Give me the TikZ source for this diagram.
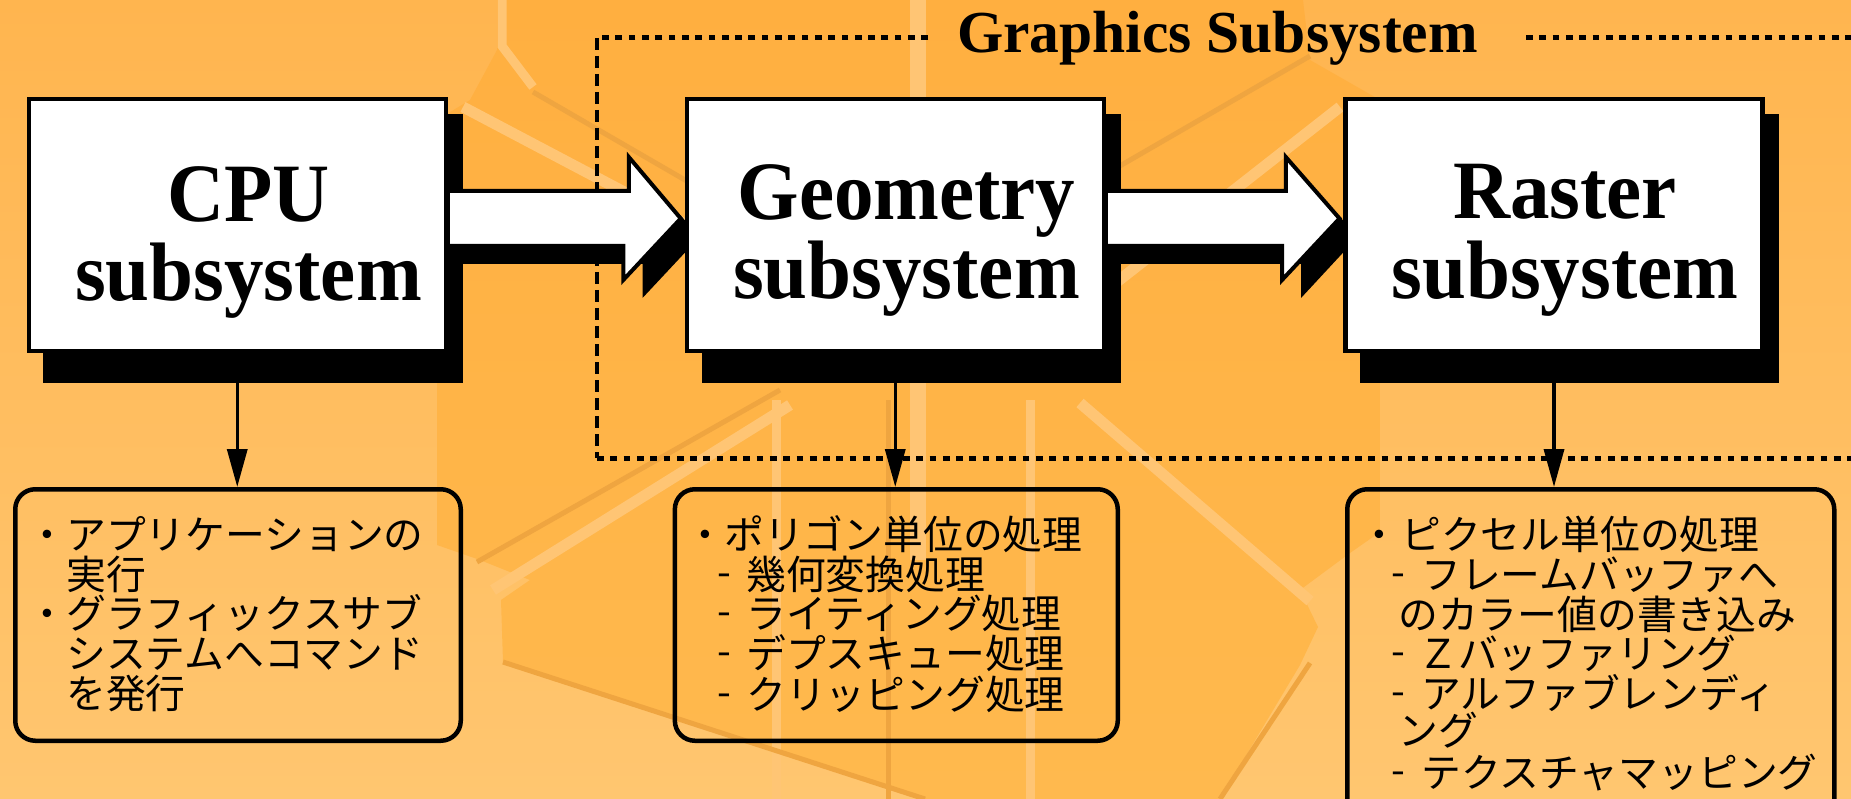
\documentclass[tikz,border=0pt]{standalone}
\usepackage{fontspec}
\setmainfont{Liberation Serif}
\newfontfamily\jp{Noto Sans CJK JP}
\usetikzlibrary{arrows.meta,calc}
\definecolor{bgtop}{HTML}{FFB54F}
\definecolor{bgbot}{HTML}{FFC670}
\definecolor{darktop}{HTML}{FFAF40}
\definecolor{darkbot}{HTML}{FFB94E}
\definecolor{lightc}{HTML}{FFC574}
\definecolor{edgec}{HTML}{EFA540}
\begin{document}
\begin{tikzpicture}[x=1pt,y=-1pt,
  mainbox/.style={draw=black, line width=4.5pt, fill=white, minimum width=417pt, minimum height=251.5pt, inner sep=0pt},
  boxtext/.style={font=\fontsize{79}{80}\selectfont\bfseries, inner sep=0pt, anchor=base, yscale=1.05},
  note/.style={draw=black, line width=4.5pt, rounded corners=20pt, minimum height=251.5pt, inner sep=0pt},
  jptext/.style={font=\jp\fontsize{39.8}{40}\selectfont, inner sep=0pt, anchor=base west},
  jpmark/.style={font=\jp\fontsize{39.8}{40}\selectfont, inner sep=0pt, anchor=base},
  blockarrow/.style={draw=black, line width=4pt, fill=white, line join=miter},
  dotframe/.style={line width=5pt, dash pattern=on 6.7pt off 6.6pt},
  dotframev/.style={line width=4.5pt, dash pattern=on 12pt off 6pt},
  thinarrow/.style={line width=3.5pt, -{Triangle[length=38pt,width=20pt]}},
  lightstripe/.style={draw=lightc, line width=11pt},
  edgeline/.style={draw=edgec, line width=5pt},
]
\useasboundingbox (0,0) rectangle (1851,799);
% background
\shade[top color=bgtop, bottom color=bgbot] (0,0) rectangle (1851,799);
\shade[top color=darktop, bottom color=darkbot]
  (497,0) -- (1303,0) -- (1310,60) -- (1380,100) -- (1380,532) -- (1350,553)
  -- (1300,590) -- (1318,627) -- (1300,665) -- (1220,799) -- (925,799)
  -- (503,662) -- (501,600) -- (530,580) -- (480,560) -- (437,545)
  -- (437,120) -- (470,100) -- (497,50) -- cycle;
\draw[lightstripe, line width=9pt] (502,0) -- (502,46) -- (533,87);
\draw[lightstripe] (463,107) -- (700,232);
\draw[lightstripe] (493,590) -- (790,405);
\draw[lightstripe] (1080,403) -- (1310,601);
\draw[lightstripe] (1340,107) -- (1113,285);
\draw[lightstripe, line width=16pt] (918,0) -- (918,560);
\draw[lightstripe, line width=9pt] (1030,400) -- (1030,799);
\draw[lightstripe, line width=9pt] (776,400) -- (776,799);
\draw[edgeline] (533,92) -- (780,235);
\draw[edgeline] (477,562) -- (780,390);
\draw[edgeline] (1310,663) -- (1220,799);
\draw[edgeline] (1310,56) -- (1080,189);
\draw[edgeline] (503,662) -- (925,799);
\draw[edgeline] (888,400) -- (888,799);
% dotted frame
\draw[dotframe] (928,38) -- (597,38);
\draw[dotframev] (597,38) -- (597,458);
\draw[dotframe] (597,458) -- (1860,458);
\draw[dotframe] (1526,38) -- (1860,38);
\node[font=\fontsize{59.5}{60}\selectfont\bfseries, anchor=base west, inner sep=0pt] (title) at (957,53) {Graphics Subsystem};
% note boxes
\node[note, minimum width=445.5pt] (cpunote) at (238,615) {};
\node[note, minimum width=442.9pt] (geonote) at (896.3,615) {};
\node[note, minimum width=487pt, minimum height=338.5pt] (rasnote) at (1590.75,658.5) {};
% main box anchors (for thin arrows)
\coordinate (cpuc) at (237.25,225);
\coordinate (geoc) at (895.25,225);
\coordinate (rasc) at (1554,225);
\draw[thinarrow] (cpuc) -- (cpuc |- cpunote.north);
\draw[thinarrow] (geoc) -- (geoc |- geonote.north);
\draw[thinarrow] (rasc) -- (rasc |- rasnote.north);
% shadows
\fill[black] (43,114) rectangle (463,383);
\fill[black] (702,114) rectangle (1121,383);
\fill[black] (1360,114) rectangle (1779,383);
\fill[black] (448,209) -- (642.5,209) -- (642.5,175) -- (700,236.5) -- (642.5,298) -- (642.5,264) -- (448,264) -- cycle;
\fill[black] (1105,209) -- (1301,209) -- (1301,175) -- (1358,236.5) -- (1301,298) -- (1301,264) -- (1105,264) -- cycle;
% main boxes
\node[mainbox] (cpu) at (cpuc) {};
\node[mainbox] (geo) at (geoc) {};
\node[mainbox] (ras) at (rasc) {};
\node[boxtext] (cpu1) at (248.5,222) {CPU};
\node[boxtext] (cpu2) at (248.5,301) {subsystem};
\node[boxtext] (geo1) at (906.5,220) {Geometry};
\node[boxtext] (geo2) at (906.5,299) {subsystem};
\node[boxtext] (ras1) at (1565,219) {Raster};
\node[boxtext] (ras2) at (1565,298) {subsystem};
% block arrows
\draw[blockarrow] ($(cpu.east)+(2,-34)$) -- ++(178.75,0) -- ++(0,-34) -- ($(geo.west)+(-3.75,-6.5)$)
  -- ++(-57.5,61.5) -- ++(0,-34) -- ($(cpu.east)+(2,21)$);
\draw[blockarrow] ($(geo.east)+(2,-34)$) -- ++(177.75,0) -- ++(0,-34) -- ($(ras.west)+(-3.75,-6.5)$)
  -- ++(-57.5,61.5) -- ++(0,-34) -- ($(geo.east)+(2,21)$);
% CPU note text
\node[jpmark] (cb1) at (47,549) {・};
\node[jptext] (ct1) at (66,549) {アプリケーションの};
\node[jptext] (ct2) at (66,589) {実行};
\node[jpmark] (cb2) at (47,628) {・};
\node[jptext] (ct3) at (66,628) {グラフィックスサブ};
\node[jptext] (ct4) at (66,668) {システムへコマンド};
\node[jptext] (ct5) at (66,708) {を発行};
% Geometry note text
\node[jpmark] (gb1) at (705,549) {・};
\node[jptext] (gt1) at (724,549) {ポリゴン単位の処理};
\node[jpmark] (gd2) at (724,586) {-};
\node[jptext] (gt2) at (746,589) {幾何変換処理};
\node[jpmark] (gd3) at (724,625) {-};
\node[jptext] (gt3) at (746,628) {ライティング処理};
\node[jpmark] (gd4) at (724,665) {-};
\node[jptext] (gt4) at (746,668) {デプスキュー処理};
\node[jpmark] (gd5) at (724,706) {-};
\node[jptext] (gt5) at (746,709) {クリッピング処理};
% Raster note text
\node[jpmark] (rb1) at (1379,549) {・};
\node[jptext] (rt1) at (1401,549) {ピクセル単位の処理};
\node[jpmark] (rd2) at (1398,586) {-};
\node[jptext] (rt2) at (1421,589) {フレームバッファへ};
\node[jptext] (rt3) at (1398,629) {のカラー値の書き込み};
\node[jpmark] (rd4) at (1398,665) {-};
\node[jptext] (rt4) at (1418,668) {Ｚバッファリング};
\node[jpmark] (rd5) at (1398,705) {-};
\node[jptext] (rt5) at (1421,708) {アルファブレンディ};
\node[jptext] (rt6) at (1398,745) {ング};
\node[jpmark] (rd7) at (1398,784) {-};
\node[jptext] (rt7) at (1421,787) {テクスチャマッピング};
\end{tikzpicture}
\end{document}
